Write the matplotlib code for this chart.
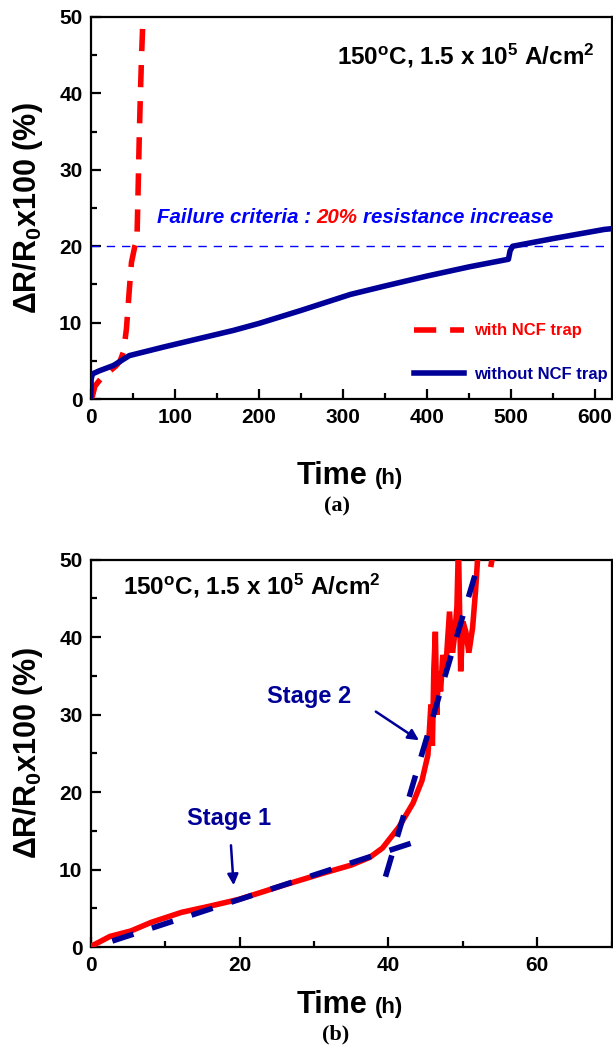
import numpy as np
import matplotlib
matplotlib.use('Agg')
import matplotlib.pyplot as plt
from matplotlib.ticker import MultipleLocator

plt.rcParams['font.family'] = ['Liberation Sans', 'DejaVu Sans']
plt.rcParams['font.weight'] = 'bold'
plt.rcParams['mathtext.fontset'] = 'custom'
plt.rcParams['mathtext.rm'] = 'Liberation Sans:bold'
plt.rcParams['mathtext.it'] = 'Liberation Sans:bold:italic'
plt.rcParams['mathtext.bf'] = 'Liberation Sans:bold'

NAVY = '#000099'
RED = '#ff0000'

# (a) resistance change vs time, 620 h test
t_without = [0, 0.5, 2, 10, 27, 46, 86, 128, 170, 200, 250, 309, 350, 400, 450, 497, 499, 502, 550, 611, 620]
r_without = [0, 2.6, 3.3, 3.7, 4.4, 5.7, 6.8, 7.9, 9.0, 9.9, 11.6, 13.7, 14.8, 16.1, 17.3, 18.3, 19.4, 20.0, 21.0, 22.2, 22.3]

t_with = [0, 2, 5, 10, 15, 22, 30, 35, 39, 42.5, 45.7, 48.5, 52.5, 55, 56.5, 57.7, 59, 60.5, 62.4]
r_with = [0, 0.4, 1.7, 2.4, 3.0, 3.6, 4.35, 5.0, 6.2, 9.2, 14.0, 17.9, 20.0, 20.8, 27.9, 34.0, 39.5, 44.9, 50.5]

failure_level = 20

# (b) zoom on the NCF trap sample
t_b = [0, 2.6, 5.4, 8.1, 12.2, 16, 20, 25.9, 31.4, 35.0, 37.5, 39.2, 41.4, 43.3, 44.5, 45.3, 45.5, 45.7,
       45.9, 46.1, 46.3, 46.5, 46.7, 47.0, 47.3, 47.7, 48.2, 48.6, 48.9, 49.2, 49.4, 49.7, 50.0, 50.4,
       50.8, 51.3, 51.7, 52.1]
r_b = [0.1, 1.4, 2.1, 3.2, 4.5, 5.3, 6.2, 8.0, 9.6, 10.6, 11.6, 12.8, 15.5, 18.6, 21.5, 24.8, 28, 31.3,
       26, 36, 40.7, 30, 35.6, 33, 37.7, 36, 43.3, 38, 40.3, 44, 52, 35.6, 42, 40.7, 38, 41.2, 46, 52]
t_b_tail = [53.8, 54.1]
r_b_tail = [49.4, 51]

stage1_t = [2.9, 43.0]
stage1_r = [0.8, 13.4]
stage2_t = [39.6, 52.3]
stage2_r = [9.1, 50.2]

fig = plt.figure(figsize=(6.13, 10.56), dpi=100)
ax1 = fig.add_axes([0.148, 0.622, 0.850, 0.362])
ax2 = fig.add_axes([0.148, 0.103, 0.850, 0.367])


def style_axes(ax, xmaj, xmin):
    for s in ax.spines.values():
        s.set_linewidth(1.6)
    ax.xaxis.set_major_locator(MultipleLocator(xmaj))
    ax.xaxis.set_minor_locator(MultipleLocator(xmin))
    ax.yaxis.set_major_locator(MultipleLocator(10))
    ax.yaxis.set_minor_locator(MultipleLocator(5))
    ax.tick_params(which='major', direction='in', length=7, width=1.6, labelsize=15, pad=6)
    ax.tick_params(which='minor', direction='in', length=4, width=1.6)
    ax.tick_params(which='both', top=False, right=False)
    ax.set_ylim(0, 50)
    ax.set_ylabel('ΔR/R$_{\\mathrm{0}}$x100 (%)', fontsize=22, fontweight='bold')
    ax.yaxis.set_label_coords(-0.088, 0.5)


def time_label(ax, y):
    ax.text(0.530, y, 'Time', transform=ax.transAxes, ha='right', va='baseline',
            fontsize=22, fontweight='bold')
    ax.text(0.545, y, '(h)', transform=ax.transAxes, ha='left', va='baseline',
            fontsize=16, fontweight='bold')


# ---- panel (a)
ax1.plot(t_with, r_with, color=RED, lw=4, linestyle=(0, (4, 2.5)), label='with NCF trap', zorder=3)
ax1.plot(t_without, r_without, color=NAVY, lw=4, label='without NCF trap', zorder=4)
ax1.axhline(failure_level, color='#0000ff', lw=1, linestyle=(0, (6, 5)), zorder=2)
ax1.set_xlim(0, 620)
style_axes(ax1, 100, 50)
time_label(ax1, -0.223)

ax1.text(600, 43.8, '150$^{\\mathrm{o}}$C, 1.5 x 10$^{\\mathrm{5}}$ A/cm$^{\\mathrm{2}}$',
         ha='right', va='baseline', fontsize=17.5, fontweight='bold')

t1 = ax1.text(79, 23.0, 'Failure criteria :', color='#0000ff', fontsize=14.8,
              fontweight='bold', style='italic', va='baseline')
t2 = ax1.annotate('20%', xy=(1, 0), xycoords=t1, xytext=(4, 0), textcoords='offset points',
                  color=RED, fontsize=14.8, fontweight='bold', style='italic', va='bottom')
ax1.annotate('resistance increase', xy=(1, 0), xycoords=t2, xytext=(4, 0),
             textcoords='offset points', color='#0000ff', fontsize=14.8, fontweight='bold',
             style='italic', va='bottom')

ax1.legend(frameon=False, labelcolor='linecolor', prop=dict(size=12, weight='bold'),
           handlelength=3.0, handletextpad=0.6, labelspacing=1.7, loc='upper left',
           bbox_to_anchor=(0.605, 0.22), borderpad=0)

# ---- panel (b)
ax2.plot(t_b, r_b, color=RED, lw=4, solid_joinstyle='miter', zorder=3)
ax2.plot(t_b_tail, r_b_tail, color=RED, lw=4, zorder=3)
ax2.plot(stage1_t, stage1_r, color=NAVY, lw=4, linestyle=(0, (4, 3.5)), zorder=4)
ax2.plot(stage2_t, stage2_r, color=NAVY, lw=4, linestyle=(0, (4, 3.5)), zorder=4)
ax2.set_xlim(0, 70)
style_axes(ax2, 20, 10)
time_label(ax2, -0.170)

ax2.text(4.3, 45.5, '150$^{\\mathrm{o}}$C, 1.5 x 10$^{\\mathrm{5}}$ A/cm$^{\\mathrm{2}}$',
         ha='left', va='baseline', fontsize=17.5, fontweight='bold')

ax2.annotate('Stage 1', xy=(19.2, 8.0), xytext=(18.6, 16.6), ha='center', va='center',
             color=NAVY, fontsize=17, fontweight='bold',
             arrowprops=dict(arrowstyle='-|>', color=NAVY, lw=1.8, mutation_scale=16,
                             shrinkA=9, shrinkB=0))
ax2.annotate('Stage 2', xy=(44.1, 26.7), xytext=(29.4, 32.3), ha='center', va='center',
             color=NAVY, fontsize=17, fontweight='bold')
ax2.annotate('', xy=(44.1, 26.7), xytext=(38.3, 30.4),
             arrowprops=dict(arrowstyle='-|>', color=NAVY, lw=1.8, mutation_scale=16,
                             shrinkA=0, shrinkB=0))

fig.text(0.549, 0.520, '(a)', ha='center', va='center', fontsize=16, fontweight='bold',
         family='Liberation Serif')
fig.text(0.547, 0.020, '(b)', ha='center', va='center', fontsize=16, fontweight='bold',
         family='Liberation Serif')

fig.savefig('out.png', dpi=100)
